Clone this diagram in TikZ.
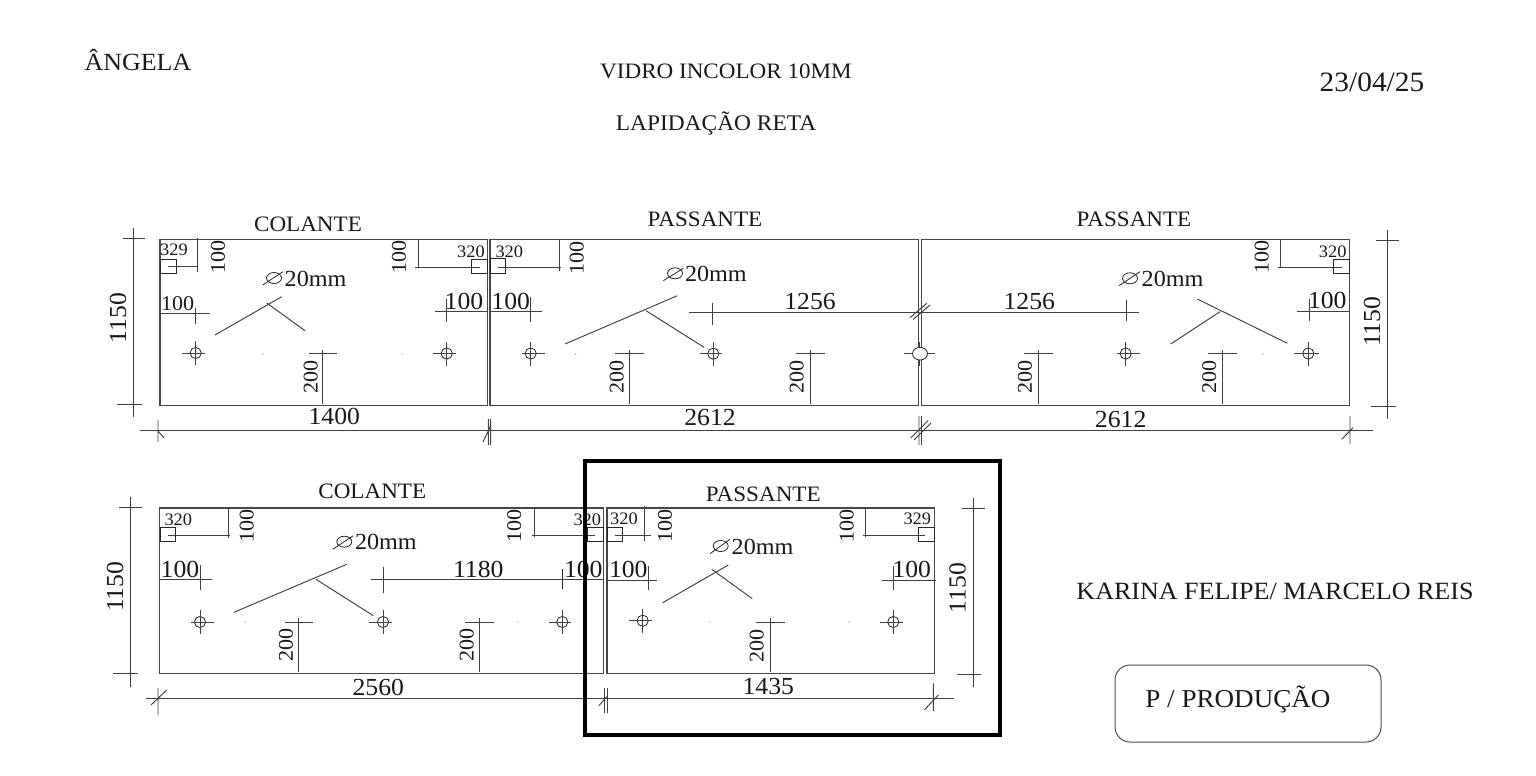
\documentclass[tikz,border=0pt]{standalone}
\usepackage{fontspec}
\setmainfont[FakeStretch=1.05]{Liberation Serif}
\newcommand{\fs}[1]{\fontsize{#1}{#1}\selectfont}
\tikzset{
  panel/.style={draw=black!72,line width=1.1pt},
  dim/.style={draw=black!75,line width=0.95pt},
  thin/.style={draw=black!85,line width=0.8pt},
  txt/.style={inner sep=0pt,text=black!90},
  head/.style={txt,node font=\fs{#1}},
  title/.style={txt,node font=\fs{22}},
  big/.style={txt,node font=\fs{24.5}},
  mid/.style={txt,node font=\fs{21}},
  small/.style={txt,node font=\fs{17.5}},
  vbig/.style={big,rotate=90},
  vmid/.style={mid,rotate=90},
}
% hole mark: centre, horizontal extent, vertical extent
\newcommand{\holeMark}[6]{\draw[thin] (#1,#2) ellipse (5.6 and 5.6);
  \draw[dim] (#3,#2)--(#4,#2) (#1,#5)--(#1,#6);}
% crossing: horizontal from x1 to x2 at y, vertical at x from y1 to y2
\newcommand{\crossMark}[6]{\draw[dim] (#2,#1)--(#3,#1) (#4,#5)--(#4,#6);}
% small corner square
\newcommand{\cornerSq}[4]{\draw[thin] (#1,#3) rectangle (#2,#4);}
% diameter mark
\newcommand{\dia}[7]{\draw[thin] (#1,#2) ellipse (7.5 and 5.5);
  \draw[thin] (#3,#4)--(#5,#6);
  \node[anchor=west,inner sep=0pt,text=black!90,node font=\fs{23}] (#7) at (#5+1.5,#2+0.5) {20mm};}
\newcommand{\speck}[2]{\fill[black!55] (#1,#2) circle (0.6);}
\begin{document}
\begin{tikzpicture}[x=1pt,y=-1pt]
\useasboundingbox (0,0) rectangle (1536,776);
\fill[white] (0,0) rectangle (1536,776);
% header
\node[head=24.7] (nome) at (138,60) {ÂNGELA};
\node[head=22] (vidro) at (726,71) {VIDRO INCOLOR 10MM};
\node[head=22.3] (lapid) at (716,124) {LAPIDAÇÃO RETA};
\node[head=28] (data) at (1372,82) {23/04/25};
\node[head=24.8] (karina) at (1275,591) {KARINA FELIPE/ MARCELO REIS};
% panels
\draw[panel] (160,239.5) rectangle (487.7,405.5);
\draw[panel] (490,239.5) rectangle (918.3,405.5);
\draw[panel] (921.3,239.5) rectangle (1349.3,405.5);
\draw[panel] (159.3,508) rectangle (603.3,673.5);
\draw[panel] (607,508) rectangle (934.3,673.5);
% titles
\node[title] (t1) at (308,224) {COLANTE};
\node[title] (t2) at (705,219) {PASSANTE};
\node[title] (t3) at (1134,219) {PASSANTE};
\node[title] (t4) at (372.3,491.7) {COLANTE};
\node[title] (t5) at (763.3,494) {PASSANTE};

%%% Panel 1
\node[small] (p1a) at (174,250) {329};
\cornerSq{160}{176.3}{259}{273.3}
\crossMark{266.7}{168}{197.7}{197.7}{238}{272}
\node[vmid] (p1b) at (218,257) {100};
\node[vmid] (p1c) at (399,257) {100};
\crossMark{267}{415}{480}{418}{240}{268}
\cornerSq{471.7}{487.7}{259}{273.3}
\node[small] (p1d) at (471,252) {320};
\dia{274}{278}{262.7}{285}{283}{271.7}{d1}
\draw[dim] (215,335)--(281.7,296.7) (266.7,303)--(305,330.7);
\node[mid] (p1e) at (177.7,304) {100};
\crossMark{313}{160}{210}{195}{308}{324}
\holeMark{195.7}{353}{181.7}{205}{341}{365}
\holeMark{446.7}{353.5}{432.7}{456}{342}{366}
\speck{263}{354}\speck{402}{354}
\crossMark{353.7}{309}{337}{322.7}{350}{404}
\node[vmid] (p1f) at (310.7,376.7) {200};
\node[big] (p1g) at (464,301) {100};
\crossMark{311}{435}{487}{446}{299}{321.7}
\draw[dim] (133.7,228)--(133.7,417) (122.7,238.5)--(145,238.5) (117,404.3)--(141.7,404.3);
\node[vbig] (p1h) at (118,318) {1150};
% bottom dimension row 1
\draw[dim] (140,430)--(1373,430);
\draw[dim] (158,420)--(158,442) (158,431)--(164,438);
\draw[dim] (488.3,419)--(488.3,445) (490.7,419)--(490.7,445) (483,442)--(491,425);
\draw[dim] (919,416)--(919,445) (921.5,416)--(921.5,445) (910.7,438)--(928,420.7) (914,440)--(931,423);
\draw[dim] (1350,416)--(1350,444) (1341.7,439.3)--(1353,427.7);
\node[big] (p1i) at (334.3,416.7) {1400};
\node[big] (p2i) at (710,418) {2612};
\node[big] (p3i) at (1120.7,420) {2612};

%%% Panel 2
\node[small] (p2a) at (509.3,251.7) {320};
\cornerSq{490}{505.3}{258.7}{273.3}
\crossMark{267}{498}{561}{559.3}{240}{271}
\node[vmid] (p2b) at (576.7,257.7) {100};
\dia{675}{273.3}{663.3}{280.7}{683.3}{268.3}{d2}
\draw[dim] (565,344)--(677.3,295.7) (646,310.7)--(704,347.3);
\node[big] (p2c) at (510.7,301.7) {100};
\crossMark{311}{489}{542.3}{530.7}{296.7}{321.7}
\node[big] (p2d) at (810,301.7) {1256};
\crossMark{312}{689.3}{1139}{712.3}{303}{325}
\draw[dim] (910,317.7)--(926.7,303.3) (913,319.5)--(930,305);
\node[big] (p3c) at (1029.3,301.7) {1256};
\draw[dim] (1126.7,300)--(1126.7,321);
\holeMark{530.7}{353.5}{521.7}{545}{342}{366}
\holeMark{713.3}{353.7}{700}{722}{342}{366}
\speck{575.7}{354}
\crossMark{353.7}{615}{644}{629}{350}{404}
\node[vmid] (p2e) at (616.7,376.7) {200};
\crossMark{353.7}{796}{825}{810}{350}{404}
\node[vmid] (p2f) at (796.7,376.7) {200};
% hole on the joint
\draw[dim] (904,353.7)--(935,353.7) (919.8,342)--(919.8,366);
\draw[thin,fill=white] (920,353.7) ellipse (7.5 and 6.3);

%%% Panel 3
\crossMark{353.7}{1024}{1053}{1038}{350}{404}
\node[vmid] (p3e) at (1025,376.7) {200};
\crossMark{353.7}{1208}{1237}{1222}{350}{404}
\node[vmid] (p3f) at (1209.3,376.7) {200};
\holeMark{1125.7}{353.5}{1117}{1140}{342}{366}
\holeMark{1308.3}{353.5}{1294.3}{1319}{342}{366}
\speck{1263}{354}
\draw[dim] (1170.7,344)--(1220,311.7) (1197.3,299)--(1287.3,343.3);
\dia{1130}{278.3}{1119}{285.7}{1140}{271.7}{d3}
\node[vmid] (p3g) at (1261.7,257) {100};
\crossMark{267}{1278}{1341.7}{1280.7}{240}{268}
\cornerSq{1333.3}{1349.3}{259}{273.3}
\node[small] (p3h) at (1332.7,251.7) {320};
\node[big] (p3j) at (1327.3,300) {100};
\crossMark{311}{1297.3}{1350}{1309}{299}{321}
\draw[dim] (1387.3,230)--(1387.3,419) (1376,240)--(1399,240) (1371,406.5)--(1396,406.5);
\node[vbig] (p3k) at (1372,321.7) {1150};

%%% Panel 4
\node[small] (p4a) at (178.3,519.3) {320};
\cornerSq{160}{175.3}{527.3}{541.7}
\crossMark{535}{168}{230}{228.3}{508}{538}
\node[vmid] (p4b) at (246.7,525.7) {100};
\node[vmid] (p4c) at (514.3,525.7) {100};
\crossMark{535}{532}{595}{534.3}{508}{537}
\cornerSq{587.7}{603.3}{527.3}{541.7}
\node[small] (p4d) at (587.3,520) {320};
\dia{344.3}{541.7}{332.7}{549.3}{353.3}{535.7}{d4}
\draw[dim] (234,612.3)--(346.7,564.3) (316,579.3)--(373.3,615.7);
\node[big] (p4e) at (180,569.3) {100};
\crossMark{579.3}{159}{211.7}{200}{565}{590}
\node[big] (p4f) at (478.3,569.3) {1180};
\crossMark{579.3}{370.7}{603}{383.3}{566.7}{592.7}
\draw[draw=black!85,line width=1.2pt] (562.3,569)--(562.3,589);
\node[big] (p4g) at (583.3,569.3) {100};
\holeMark{200}{622}{191}{214}{610}{634}
\holeMark{383}{622}{369}{392}{610}{634}
\holeMark{562.3}{622}{549}{571}{610}{634}
\speck{245}{622}\speck{518}{622}
\crossMark{622}{284.7}{313.3}{298.3}{618}{672}
\node[vmid] (p4h) at (286,645) {200};
\crossMark{622}{465}{494}{479}{618}{672}
\node[vmid] (p4i) at (466.7,645) {200};
\draw[dim] (130,497)--(130,687) (119,507.7)--(141.7,507.7) (113.3,673.3)--(138,673.3);
\node[vbig] (p4j) at (115,586.7) {1150};
% bottom dimension row 2
\draw[dim] (146,698.3)--(954.3,698.3);
\draw[dim] (158,688)--(158,715) (151,705)--(166.7,690);
\draw[dim] (604.5,688)--(604.5,713) (607.5,688)--(607.5,713) (599,705.7)--(606.7,696.7);
\draw[dim] (933.3,683.3)--(933.3,711) (924.3,710)--(938.3,695);
\node[big] (p4k) at (378.3,687.3) {2560};
\node[big] (p5k) at (768.3,686.7) {1435};

%%% Panel 5
\node[small] (p5a) at (624,519) {320};
\cornerSq{607}{622.7}{527}{541.7}
\crossMark{535}{615}{651}{644.3}{505.7}{541}
\node[vmid] (p5b) at (665,526) {100};
\node[vmid] (p5c) at (846.7,526) {100};
\crossMark{535}{863}{925}{865}{508}{537}
\cornerSq{918.3}{934.3}{527.3}{541.7}
\node[small] (p5d) at (917.3,518.3) {329};
\dia{720.7}{546}{710}{553.7}{730}{539.3}{d5}
\draw[dim] (662.7,602.7)--(728.3,565) (711.7,569.3)--(752.3,598.7);
\node[big] (p5e) at (628.3,569.3) {100};
\crossMark{580}{607}{657}{648}{566}{590}
\node[big] (p5f) at (911.7,569.3) {100};
\crossMark{580}{882.3}{936}{893.3}{566}{590}
\holeMark{642.7}{620.7}{628.7}{652}{609}{633}
\holeMark{893.3}{622}{879.7}{902.7}{610}{634}
\speck{710}{622}\speck{849}{622}
\crossMark{622}{756}{785}{770}{618}{672}
\node[vmid] (p5g) at (756.7,645.7) {200};
\draw[dim] (973,498)--(973,687) (962,508.3)--(984.7,508.3) (956.7,674.7)--(981,674.7);
\node[vbig] (p5h) at (957.7,588.3) {1150};

% highlight frame and stamp
\draw[black,line width=4pt] (584.5,461) rectangle (1000,735);
\node[draw=black!70,line width=1pt,rounded corners=15pt,minimum width=266pt,minimum height=77pt,inner sep=0pt] (stampbox) at (1248,703.5) {};
\node[head=25.8] (stamp) at (1238,699) {P / PRODUÇÃO};
\end{tikzpicture}
\end{document}
